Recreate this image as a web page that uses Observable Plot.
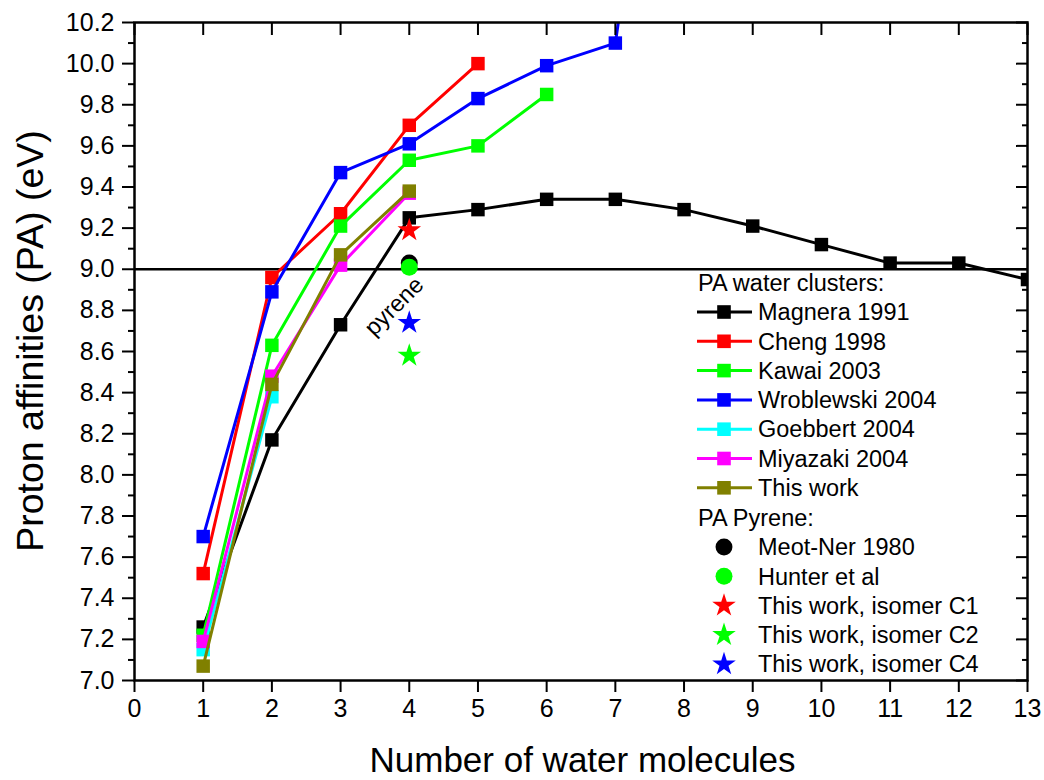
<!DOCTYPE html>
<html>
<head>
<meta charset="utf-8">
<script src="https://cdn.jsdelivr.net/npm/d3@7"></script>
<script src="https://cdn.jsdelivr.net/npm/@observablehq/plot@0.6"></script>
<style>
  html, body { margin: 0; padding: 0; background: #fff; }
  #chart svg { display: block; }
</style>
</head>
<body>
<div id="chart"></div>
<script>
// Proton affinities of protonated water clusters vs. cluster size
const magneraN  = [1, 2, 3, 4, 5, 6, 7, 8, 9, 10, 11, 12, 13];
const magneraPA = [7.26, 8.17, 8.73, 9.25, 9.29, 9.34, 9.34, 9.29, 9.21, 9.12, 9.03, 9.03, 8.95];
const chengN  = [1, 2, 3, 4, 5];
const chengPA = [7.52, 8.96, 9.27, 9.70, 10.00];
const kawaiN  = [1, 2, 3, 4, 5, 6];
const kawaiPA = [7.22, 8.63, 9.21, 9.53, 9.60, 9.85];
const wroblewskiN  = [1, 2, 3, 4, 5, 6, 7, 8];
const wroblewskiPA = [7.70, 8.89, 9.47, 9.61, 9.83, 9.99, 10.10, 12.4];
const goebbertN  = [1, 2];
const goebbertPA = [7.15, 8.38];
const miyazakiN  = [1, 2, 3, 4];
const miyazakiPA = [7.19, 8.48, 9.02, 9.37];
const thisWorkN  = [1, 2, 3, 4];
const thisWorkPA = [7.07, 8.44, 9.07, 9.38];

// Proton affinities of pyrene (all placed at n = 4)
const pyreneNames  = ["Meot-Ner 1980", "Hunter et al", "This work, isomer C1", "This work, isomer C2", "This work, isomer C4"];
const pyreneN      = [4, 4, 4, 4, 4];
const pyrenePA     = [9.03, 9.01, 9.19, 8.58, 8.74];
const pyreneSymbol = ["circle", "circle", "star", "star", "star"];
const pyreneColor  = ["#000000", "#00ff00", "#ff0000", "#00ff00", "#0000ff"];

const seriesNames  = ["Magnera 1991", "Cheng 1998", "Kawai 2003", "Wroblewski 2004", "Goebbert 2004", "Miyazaki 2004", "This work"];
const seriesColors = ["#000000", "#ff0000", "#00ff00", "#0000ff", "#00ffff", "#ff00ff", "#808000"];
const seriesN  = [magneraN, chengN, kawaiN, wroblewskiN, goebbertN, miyazakiN, thisWorkN];
const seriesPA = [magneraPA, chengPA, kawaiPA, wroblewskiPA, goebbertPA, miyazakiPA, thisWorkPA];

const xTicks = [0, 1, 2, 3, 4, 5, 6, 7, 8, 9, 10, 11, 12, 13];
const yTicks = [7.0, 7.2, 7.4, 7.6, 7.8, 8.0, 8.2, 8.4, 8.6, 8.8, 9.0, 9.2, 9.4, 9.6, 9.8, 10.0, 10.2];
const yMinorTicks = [7.1, 7.3, 7.5, 7.7, 7.9, 8.1, 8.3, 8.5, 8.7, 8.9, 9.1, 9.3, 9.5, 9.7, 9.9, 10.1];
const referenceLevel = [9.0];
const pyreneNote = [{n: 3.78, pa: 8.82, label: "pyrene"}];

const FONT = "'Liberation Sans', Arial, Helvetica, sans-serif";

const series = seriesNames.map((name, i) => ({
  name,
  color: seriesColors[i],
  rows: seriesN[i].map((n, j) => ({n, pa: seriesPA[i][j]}))
}));
const pyrene = pyreneNames.map((name, i) => ({
  name, n: pyreneN[i], pa: pyrenePA[i], symbol: pyreneSymbol[i], color: pyreneColor[i]
}));

const W = 1044, H = 780;
const mL = 134, mR = 17, mT = 22, mB = 100;

const seriesMarks = series.flatMap(s => [
  Plot.line(s.rows, {x: "n", y: "pa", stroke: s.color, strokeWidth: 3, clip: true}),
  Plot.dot(s.rows, {x: "n", y: "pa", symbol: "square", r: 7.6, fill: s.color, stroke: "none", clip: true})
]);

const chart = Plot.plot({
  width: W,
  height: H,
  marginLeft: mL,
  marginRight: mR,
  marginTop: mT,
  marginBottom: mB,
  style: {fontFamily: FONT, color: "black", background: "white"},
  x: {domain: [0, 13]},
  y: {domain: [7.0, 10.2]},
  marks: [
    Plot.ruleY(referenceLevel, {stroke: "black", strokeWidth: 2.5}),
    ...seriesMarks,
    ...pyrene.map(p => Plot.dot([p], {
      x: "n", y: "pa", symbol: p.symbol, r: p.symbol === "star" ? 7.4 : 8.5,
      fill: p.color, stroke: "none"
    })),
    Plot.text(pyreneNote, {x: "n", y: "pa", text: "label", rotate: -45, fontSize: 23.5, fill: "black"}),
    // bottom and left axes: ticks outward
    Plot.axisX({ticks: xTicks, tickSize: 12, tickPadding: 7, fontSize: 25, strokeWidth: 2, label: null, tickFormat: d => String(d)}),
    Plot.axisY({ticks: yTicks, tickSize: 12, tickPadding: 8, fontSize: 25, strokeWidth: 2, label: null, tickFormat: d => d.toFixed(1)}),
    Plot.axisY({ticks: yMinorTicks, tickSize: 6, strokeWidth: 2, label: null, tickFormat: () => null}),
    // mirrored top and right axes: ticks inward
    Plot.axisX({anchor: "top", ticks: xTicks, tickSize: 12, dy: 12, strokeWidth: 2, label: null, tickFormat: () => null}),
    Plot.axisY({anchor: "right", ticks: yTicks, tickSize: 12, dx: -12, strokeWidth: 2, label: null, tickFormat: () => null}),
    Plot.axisY({anchor: "right", ticks: yMinorTicks, tickSize: 6, dx: -6, strokeWidth: 2, label: null, tickFormat: () => null}),
    Plot.frame({stroke: "black", strokeWidth: 2.5})
  ]
});

const svg = d3.select(chart);

// axis titles
svg.append("text")
  .attr("x", (mL + W - mR) / 2 + 2).attr("y", H - 8)
  .attr("text-anchor", "middle")
  .attr("font-family", FONT).attr("font-size", 35).attr("fill", "black")
  .text("Number of water molecules");
svg.append("text")
  .attr("transform", `translate(43, ${(mT + H - mB) / 2 - 10}) rotate(-90)`)
  .attr("text-anchor", "middle")
  .attr("font-family", FONT).attr("font-size", 37.5).attr("fill", "black")
  .text("Proton affinities (PA) (eV)");

// legend
const lg = svg.append("g")
  .attr("font-family", FONT).attr("font-size", 23.5).attr("fill", "black")
  .attr("text-anchor", "start");
const step = 29.3;
const symX = 724, textX = 758;
lg.append("text").attr("x", 698).attr("y", 283).attr("dy", "0.35em").text("PA water clusters:");
series.forEach((s, i) => {
  const y = 312 + i * step;
  lg.append("line").attr("x1", 697).attr("x2", 752).attr("y1", y).attr("y2", y)
    .attr("stroke", s.color).attr("stroke-width", 3);
  lg.append("rect").attr("x", symX - 6.8).attr("y", y - 6.8).attr("width", 13.6).attr("height", 13.6)
    .attr("fill", s.color);
  lg.append("text").attr("x", textX).attr("y", y).attr("dy", "0.35em").text(s.name);
});
lg.append("text").attr("x", 698).attr("y", 518).attr("dy", "0.35em").text("PA Pyrene:");
pyrene.forEach((p, i) => {
  const y = 547 + i * step;
  const shape = p.symbol === "star" ? d3.symbolStar : d3.symbolCircle;
  const size = p.symbol === "star" ? 172 : 225;
  lg.append("path").attr("d", d3.symbol(shape, size)()).attr("transform", `translate(${symX},${y})`)
    .attr("fill", p.color);
  lg.append("text").attr("x", textX).attr("y", y).attr("dy", "0.35em").text(p.name);
});

document.getElementById("chart").appendChild(chart);
</script>
</body>
</html>
